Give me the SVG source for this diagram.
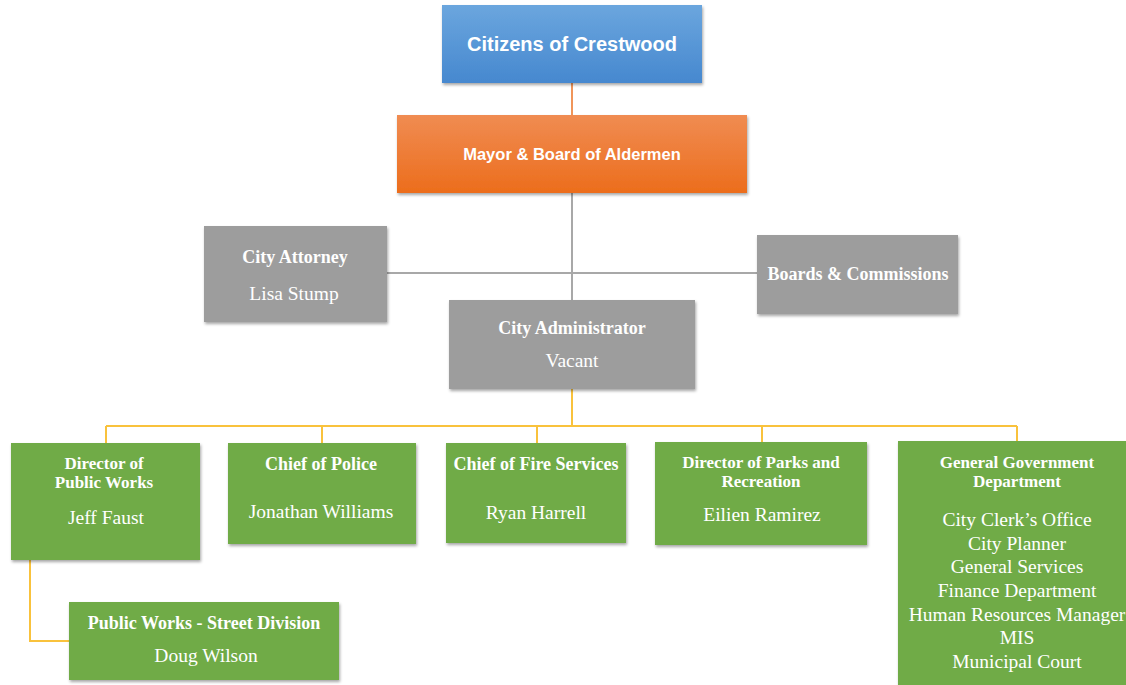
<svg xmlns="http://www.w3.org/2000/svg" width="1126" height="685" viewBox="0 0 1126 685">
  <defs>
    <linearGradient id="gBlue" x1="0" y1="0" x2="0" y2="1">
      <stop offset="0" stop-color="#6ba6de"/>
      <stop offset="1" stop-color="#4688cf"/>
    </linearGradient>
    <linearGradient id="gOrange" x1="0" y1="0" x2="0" y2="1">
      <stop offset="0" stop-color="#f08c52"/>
      <stop offset="1" stop-color="#ec6d1c"/>
    </linearGradient>
    <filter id="shadow" x="-10%" y="-10%" width="125%" height="130%">
      <feDropShadow dx="1" dy="2" stdDeviation="1.5" flood-color="#000" flood-opacity="0.35"/>
    </filter>
  </defs>
  <style>
    .box { filter: url(#shadow); }
    .gray { fill: #9d9d9d; }
    .green { fill: #70ab46; }
    .sans { font-family: "Liberation Sans", Arial, sans-serif; font-weight: bold; fill: #ffffff; text-anchor: middle; }
    .t { font-family: "Liberation Serif", "Times New Roman", serif; font-weight: bold; font-size: 18px; fill: #ffffff; text-anchor: middle; }
    .t2 { font-family: "Liberation Serif", "Times New Roman", serif; font-weight: bold; font-size: 17px; fill: #ffffff; text-anchor: middle; }
    .n { font-family: "Liberation Serif", "Times New Roman", serif; font-size: 19.5px; fill: #ffffff; text-anchor: middle; }
    .lgray { stroke: #a8a8a8; stroke-width: 2; fill: none; }
    .lorange { stroke: #f0955a; stroke-width: 2; fill: none; }
    .lyellow { stroke: #f9c23c; stroke-width: 2; fill: none; }
  </style>
  <rect width="1126" height="685" fill="#ffffff"/>

  <g id="connectors">
    <line class="lorange" x1="572" y1="83" x2="572" y2="115"/>
    <line class="lgray" x1="572" y1="193" x2="572" y2="300"/>
    <line class="lgray" x1="387" y1="273" x2="757" y2="273"/>
    <polyline class="lyellow" points="572,389 572,426"/>
    <line class="lyellow" x1="106" y1="426" x2="1017" y2="426"/>
    <line class="lyellow" x1="106" y1="426" x2="106" y2="443"/>
    <line class="lyellow" x1="322" y1="426" x2="322" y2="443"/>
    <line class="lyellow" x1="537" y1="426" x2="537" y2="443"/>
    <line class="lyellow" x1="762" y1="426" x2="762" y2="442"/>
    <line class="lyellow" x1="1017" y1="426" x2="1017" y2="441"/>
    <polyline class="lyellow" points="30,560 30,641 69,641"/>
  </g>

  <g id="citizens">
    <rect class="box" x="442" y="5" width="260" height="78" fill="url(#gBlue)"/>
    <text class="sans" x="572" y="51" font-size="20">Citizens of Crestwood</text>
  </g>

  <g id="mayor">
    <rect class="box" x="397" y="115" width="350" height="78" fill="url(#gOrange)"/>
    <text class="sans" x="572" y="160" font-size="16.5">Mayor &amp; Board of Aldermen</text>
  </g>

  <g id="city-attorney">
    <rect class="box gray" x="204" y="226" width="183" height="96"/>
    <text class="t" x="295" y="263">City Attorney</text>
    <text class="n" x="294" y="300">Lisa Stump</text>
  </g>

  <g id="boards">
    <rect class="box gray" x="757" y="235" width="201" height="79"/>
    <text class="t" x="858" y="280">Boards &amp; Commissions</text>
  </g>

  <g id="city-administrator">
    <rect class="box gray" x="449" y="300" width="246" height="89"/>
    <text class="t" x="572" y="334">City Administrator</text>
    <text class="n" x="572" y="367">Vacant</text>
  </g>

  <g id="public-works">
    <rect class="box green" x="11" y="443" width="189" height="117"/>
    <text class="t2" x="104" y="469">Director of</text>
    <text class="t2" x="104" y="488">Public Works</text>
    <text class="n" x="106" y="524">Jeff Faust</text>
  </g>

  <g id="police">
    <rect class="box green" x="228" y="443" width="188" height="101"/>
    <text class="t" x="321" y="470">Chief of Police</text>
    <text class="n" x="321" y="518">Jonathan Williams</text>
  </g>

  <g id="fire">
    <rect class="box green" x="446" y="443" width="180" height="100"/>
    <text class="t" x="536" y="470">Chief of Fire Services</text>
    <text class="n" x="536" y="519">Ryan Harrell</text>
  </g>

  <g id="parks">
    <rect class="box green" x="655" y="442" width="212" height="103"/>
    <text class="t2" x="761" y="468">Director of Parks and</text>
    <text class="t2" x="761" y="487">Recreation</text>
    <text class="n" x="762" y="521">Eilien Ramirez</text>
  </g>

  <g id="general-government">
    <rect class="box green" x="898" y="441" width="240" height="250"/>
    <text class="t2" x="1017" y="468">General Government</text>
    <text class="t2" x="1017" y="487">Department</text>
    <text class="n" x="1017" y="526">City Clerk’s Office</text>
    <text class="n" x="1017" y="550">City Planner</text>
    <text class="n" x="1017" y="573">General Services</text>
    <text class="n" x="1017" y="597">Finance Department</text>
    <text class="n" x="1017" y="621">Human Resources Manager</text>
    <text class="n" x="1017" y="644">MIS</text>
    <text class="n" x="1017" y="668">Municipal Court</text>
  </g>

  <g id="street-division">
    <rect class="box green" x="69" y="602" width="270" height="78"/>
    <text class="t" x="204" y="629">Public Works - Street Division</text>
    <text class="n" x="206" y="662">Doug Wilson</text>
  </g>
</svg>
